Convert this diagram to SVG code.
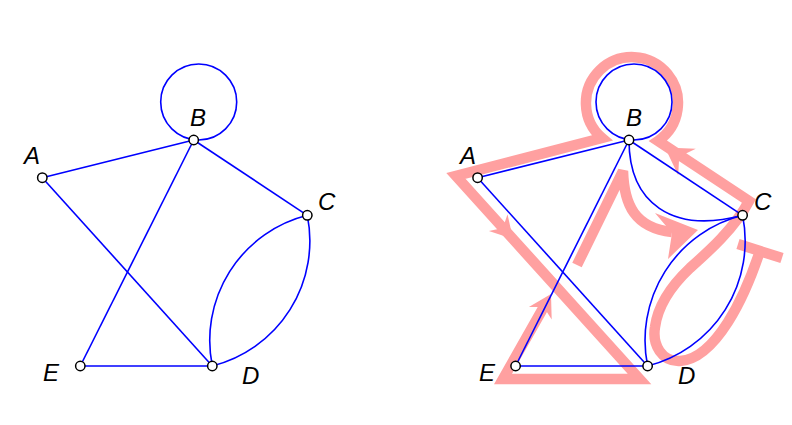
<svg xmlns="http://www.w3.org/2000/svg" width="792" height="425" viewBox="0 0 792 425">
<style>
.edge{fill:none;stroke:#0000ff;stroke-width:1.6}
.node{fill:#ffffff;stroke:#000000;stroke-width:1.5}
.lbl{font-family:"Liberation Sans",Arial,sans-serif;font-style:italic;font-size:24px;fill:#000000}
.trail{fill:none;stroke:#ffa0a0;stroke-width:10.5;stroke-linejoin:miter}
.arrow{fill:#ffa0a0;stroke:none}
</style>
<rect width="792" height="425" fill="#ffffff"/>
<g id="trail">
<path class="trail" d="M760,251 C752,275 742,300 728,322 C714,344 698,360 680,361 C662,362 652,345 655,327 C658,305 672,285 690,268 C708,252 735,228 749,201 L658,141 A46,46 0 1 0 602,138 L456,176 L639.5,379 L503,379 L543.7,307.1"/>
<path class="trail" d="M577,265 L623,171 C624,205 635,228 672,232"/>
<line class="trail" x1="738" y1="244" x2="782" y2="258"/>
<polygon class="arrow" points="513,239 488.9,231.1 502.9,227.9 507.5,214.3"/>
<polygon class="arrow" points="551,294 551.7,319.5 543.7,307.1 528.9,306.9"/>
<polygon class="arrow" points="665,147.4 695.8,148.7 679.2,156.8 678.2,175.3"/>
<polygon class="arrow" points="698,230 655,213 672,233 668,259"/>
</g>
<g id="connectors">
<path class="edge" d="M42.3,177.7 L193.7,140"/>
<path class="edge" d="M42.3,177.7 L212.3,366"/>
<path class="edge" d="M193.7,140 L80.3,366"/>
<path class="edge" d="M193.7,140 L307.3,215.3"/>
<path class="edge" d="M80.3,366 L212.3,366"/>
<circle class="edge" cx="198.7" cy="102" r="38"/>
<path class="edge" d="M212.3,366 A129,129 0 0 1 307.3,215.3"/>
<path class="edge" d="M212.3,366 A129,129 0 0 0 307.3,215.3"/>
<path class="edge" d="M477.6,177.7 L629,140"/>
<path class="edge" d="M477.6,177.7 L647.6,366"/>
<path class="edge" d="M629,140 L515.6,366"/>
<path class="edge" d="M629,140 L742.6,215.3"/>
<path class="edge" d="M629,140 C629,203 672,234 742.6,215.3"/>
<path class="edge" d="M515.6,366 L647.6,366"/>
<circle class="edge" cx="634" cy="102" r="38"/>
<path class="edge" d="M647.6,366 A129,129 0 0 1 742.6,215.3"/>
<path class="edge" d="M647.6,366 A129,129 0 0 0 742.6,215.3"/>
</g>
<g id="L-A"><circle class="node" cx="42.3" cy="177.7" r="4.7"/><text class="lbl" x="24" y="164">A</text></g>
<g id="L-B"><circle class="node" cx="193.7" cy="140" r="4.7"/><text class="lbl" x="190" y="126">B</text></g>
<g id="L-C"><circle class="node" cx="307.3" cy="215.3" r="4.7"/><text class="lbl" x="318" y="210">C</text></g>
<g id="L-D"><circle class="node" cx="212.3" cy="366" r="4.7"/><text class="lbl" x="242" y="384">D</text></g>
<g id="L-E"><circle class="node" cx="80.3" cy="366" r="4.7"/><text class="lbl" x="43" y="381">E</text></g>
<g id="R-A"><circle class="node" cx="477.6" cy="177.7" r="4.7"/><text class="lbl" x="460" y="164">A</text></g>
<g id="R-B"><circle class="node" cx="629" cy="140" r="4.7"/><text class="lbl" x="626" y="126">B</text></g>
<g id="R-C"><circle class="node" cx="742.6" cy="215.3" r="4.7"/><text class="lbl" x="754" y="210">C</text></g>
<g id="R-D"><circle class="node" cx="647.6" cy="366" r="4.7"/><text class="lbl" x="678" y="384">D</text></g>
<g id="R-E"><circle class="node" cx="515.6" cy="366" r="4.7"/><text class="lbl" x="479" y="381">E</text></g>
</svg>
